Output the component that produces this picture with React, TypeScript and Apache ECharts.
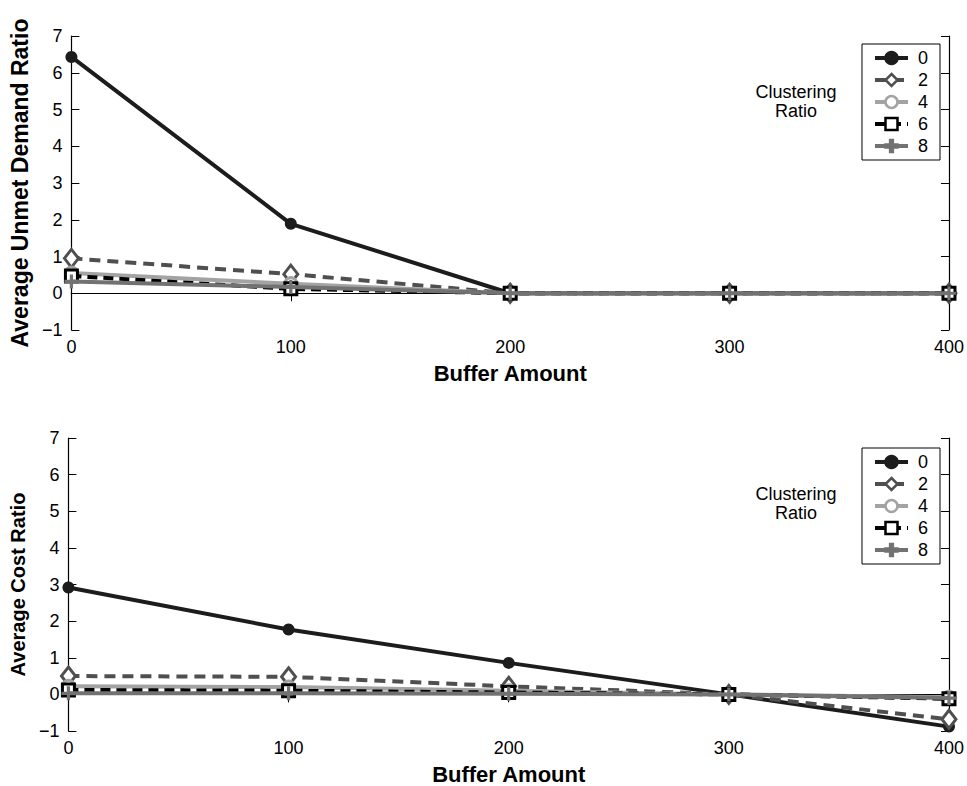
import React, { useEffect, useRef } from "react";
import * as echarts from "echarts";

const bufferAmounts = [0, 100, 200, 300, 400];
const ratioNames = ["0", "2", "4", "6", "8"];

// Top panel: Average Unmet Demand Ratio
const unmet0 = [6.43, 1.89, 0, 0, 0];
const unmet2 = [0.95, 0.52, 0, 0, 0];
const unmet4 = [0.55, 0.26, 0, 0, 0];
const unmet6 = [0.47, 0.12, 0, 0, 0];
const unmet8 = [0.32, 0.17, 0, 0, 0];

// Bottom panel: Average Cost Ratio
const cost0 = [2.92, 1.77, 0.86, 0, -0.88];
const cost2 = [0.5, 0.48, 0.22, 0, -0.68];
const cost4 = [0.22, 0.2, 0.1, 0, -0.08];
const cost6 = [0.12, 0.1, 0.05, 0, -0.12];
const cost8 = [0.03, 0.03, 0.02, 0, -0.1];

const FONT = "'Liberation Sans', Arial, Helvetica, sans-serif";
const PLUS = "path://M5,0H8V5H13V8H8V13H5V8H0V5H5Z";

const styles = [
  { line: "#1c1c1c", dash: "solid", symbol: "circle", size: 12, fill: "#1c1c1c", border: "#1c1c1c", bw: 0 },
  { line: "#4f4f4f", dash: [11, 7], symbol: "diamond", size: [14, 18], fill: "#ffffff", border: "#4f4f4f", bw: 3 },
  { line: "#a3a3a3", dash: "solid", symbol: "circle", size: 12, fill: "#ffffff", border: "#a3a3a3", bw: 3 },
  { line: "#000000", dash: [10, 6], symbol: "rect", size: 12, fill: "#ffffff", border: "#000000", bw: 3 },
  { line: "#727272", dash: "solid", symbol: PLUS, size: 14, fill: "#727272", border: "#727272", bw: 0 },
];

function makeSeries(values: number[][], xi: number, yi: number) {
  return values.map((vals, i) => {
    const s = styles[i];
    return {
      type: "line",
      name: ratioNames[i],
      xAxisIndex: xi,
      yAxisIndex: yi,
      data: bufferAmounts.map((x, k) => [x, vals[k]]),
      symbol: s.symbol,
      symbolSize: s.size,
      showSymbol: true,
      lineStyle: { color: s.line, width: 4, type: s.dash },
      itemStyle: { color: s.fill, borderColor: s.border, borderWidth: s.bw },
      emphasis: { disabled: true },
      z: 3 + i,
    };
  });
}

const minusFmt = (v: number) => (v < 0 ? "\u2212" + Math.abs(v) : String(v));

function xAxes(gridIndex: number) {
  const base = {
    type: "value",
    gridIndex,
    min: 0,
    max: 400,
    interval: 100,
    axisLine: { show: true, lineStyle: { color: "#000", width: 1.2 } },
    axisTick: { show: true, inside: true, length: 8, lineStyle: { color: "#000" } },
    splitLine: { show: false },
  };
  return [
    {
      ...base,
      position: "bottom",
      axisLabel: { show: true, color: "#000", fontSize: 18, fontFamily: FONT, margin: 8 },
      name: "Buffer Amount",
      nameLocation: "middle",
      nameGap: 32,
      nameTextStyle: { color: "#000", fontSize: 22, fontWeight: "bold", fontFamily: FONT },
    },
    { ...base, position: "top", axisLabel: { show: false } },
  ];
}

function yAxes(gridIndex: number, name: string, fontSize: number) {
  const base = {
    type: "value",
    gridIndex,
    min: -1,
    max: 7,
    interval: 1,
    axisLine: { show: true, onZero: false, lineStyle: { color: "#000", width: 1.2 } },
    axisTick: { show: true, inside: true, length: 8, lineStyle: { color: "#000" } },
    splitLine: { show: false },
  };
  return [
    {
      ...base,
      position: "left",
      axisLabel: { show: true, color: "#000", fontSize: 18, fontFamily: FONT, margin: 9, formatter: minusFmt },
      name,
      nameLocation: "middle",
      nameGap: 33,
      nameTextStyle: { color: "#000", fontSize, fontWeight: "bold", fontFamily: FONT },
    },
    { ...base, position: "right", axisLabel: { show: false } },
  ];
}

function legend(top: number) {
  return {
    show: true,
    data: ratioNames,
    orient: "vertical",
    right: 27,
    top,
    selectedMode: false,
    backgroundColor: "#fff",
    borderColor: "#000",
    borderWidth: 1,
    borderRadius: 0,
    padding: [5, 12, 5, 11],
    itemWidth: 33,
    itemHeight: 15,
    itemGap: 4,
    lineStyle: { width: 4 },
    itemStyle: { borderWidth: 2.5 },
    textStyle: { color: "#000", fontSize: 18, fontFamily: FONT, lineHeight: 18, padding: [0, 0, 0, 5] },
  };
}

function labelText(text: string, y: number) {
  return {
    type: "text",
    x: 796,
    y,
    style: {
      text,
      font: `18px ${FONT}`,
      fill: "#000",
      textAlign: "center",
      textVerticalAlign: "middle",
    },
  };
}

export default function App() {
  const ref = useRef<HTMLDivElement>(null);
  useEffect(() => {
    if (!ref.current) return;
    const chart = echarts.init(ref.current, undefined, { renderer: "svg" });
    const option = {
      animation: false,
      backgroundColor: "#fff",
      grid: [
        { left: 66, right: 17, top: 36, height: 294 },
        { left: 66, right: 17, top: 438, height: 295 },
      ],
      xAxis: [...xAxes(0), ...xAxes(1)],
      yAxis: [
        ...yAxes(0, "Average Unmet Demand Ratio", 23),
        ...yAxes(1, "Average Cost Ratio", 20),
      ],
      legend: [legend(44), legend(448)],
      graphic: [
        labelText("Clustering", 92),
        labelText("Ratio", 111),
        labelText("Clustering", 494),
        labelText("Ratio", 513),
      ],
      series: [
        ...makeSeries([unmet0, unmet2, unmet4, unmet6, unmet8], 0, 0),
        ...makeSeries([cost0, cost2, cost4, cost6, cost8], 2, 2),
      ],
    };
    chart.setOption(option as any);
    return () => chart.dispose();
  }, []);
  return (
    <div
      ref={ref}
      style={{ position: "fixed", left: 0, top: 0, width: 967, height: 786, background: "#fff" }}
    />
  );
}
